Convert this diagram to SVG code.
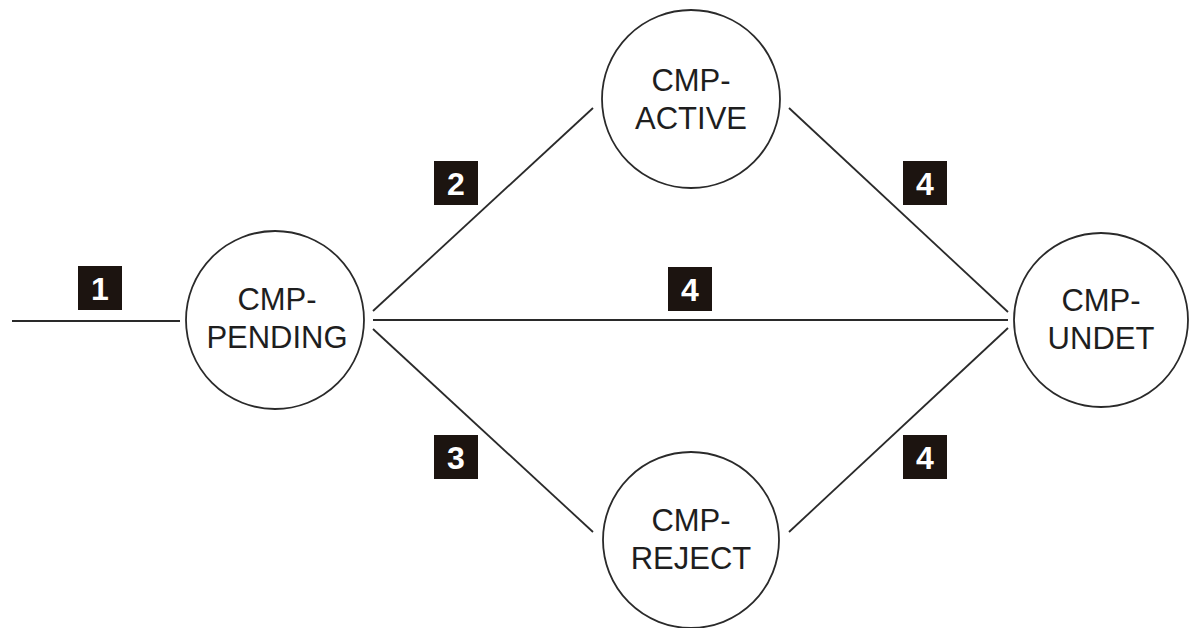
<svg xmlns="http://www.w3.org/2000/svg" width="1191" height="628" viewBox="0 0 1191 628">
  <style>
    .state { fill: #ffffff; stroke: #2a2a2a; stroke-width: 1.8; }
    .label { font-family: "Liberation Sans", Arial, sans-serif; font-size: 31px; fill: #1e1e1e; text-anchor: middle; }
    .link { stroke: #2a2a2a; stroke-width: 1.8; fill: none; }
    .badge rect { fill: #1c1410; }
    .badge text { font-family: "Liberation Sans", Arial, sans-serif; font-weight: bold; font-size: 32px; fill: #ffffff; text-anchor: middle; }
  </style>
  <rect width="1191" height="628" fill="#ffffff"/>

  <!-- transitions between states -->
  <g id="connectors">
    <line class="link" x1="12" y1="321" x2="180" y2="321"/>
    <line class="link" x1="373" y1="311" x2="593" y2="108"/>
    <line class="link" x1="373" y1="320" x2="1008" y2="320"/>
    <line class="link" x1="373" y1="329" x2="593" y2="532"/>
    <line class="link" x1="789" y1="108" x2="1008" y2="312"/>
    <line class="link" x1="789" y1="532" x2="1008" y2="328"/>
  </g>

  <!-- numbered transition markers -->
  <g id="badge-1" class="badge">
    <rect x="78" y="266" width="44" height="44"/>
    <text x="100" y="300">1</text>
  </g>
  <g id="badge-2" class="badge">
    <rect x="434" y="161" width="44" height="44"/>
    <text x="456" y="195">2</text>
  </g>
  <g id="badge-3" class="badge">
    <rect x="434" y="435" width="44" height="44"/>
    <text x="456" y="469">3</text>
  </g>
  <g id="badge-4-top" class="badge">
    <rect x="903" y="161" width="44" height="44"/>
    <text x="925" y="195">4</text>
  </g>
  <g id="badge-4-mid" class="badge">
    <rect x="668" y="267" width="44" height="44"/>
    <text x="690" y="301">4</text>
  </g>
  <g id="badge-4-bottom" class="badge">
    <rect x="903" y="435" width="44" height="44"/>
    <text x="925" y="469">4</text>
  </g>

  <!-- states -->
  <g id="cmp-pending">
    <circle class="state" cx="275" cy="320" r="89"/>
    <text class="label" x="277" y="310">CMP-</text>
    <text class="label" x="277" y="348">PENDING</text>
  </g>
  <g id="cmp-active">
    <circle class="state" cx="691" cy="99" r="89"/>
    <text class="label" x="691" y="91">CMP-</text>
    <text class="label" x="691" y="129">ACTIVE</text>
  </g>
  <g id="cmp-reject">
    <circle class="state" cx="691" cy="540" r="88"/>
    <text class="label" x="691" y="531">CMP-</text>
    <text class="label" x="691" y="569">REJECT</text>
  </g>
  <g id="cmp-undet">
    <circle class="state" cx="1101" cy="320" r="87"/>
    <text class="label" x="1101" y="311">CMP-</text>
    <text class="label" x="1101" y="349">UNDET</text>
  </g>
</svg>
